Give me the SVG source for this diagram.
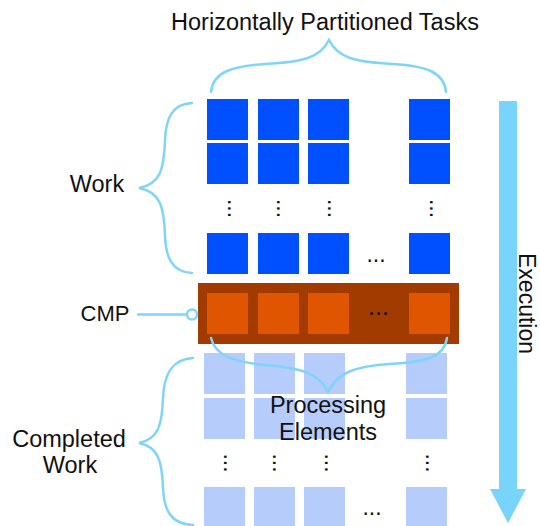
<svg xmlns="http://www.w3.org/2000/svg" width="540" height="526" viewBox="0 0 540 526">
<style>
text{font-family:"Liberation Sans",Arial,Helvetica,sans-serif;fill:#111;}
.lbl{font-size:23.5px;text-anchor:middle;}
.blue{fill:#0050FF;}
.orange{fill:#E05500;}
.light{fill:#B6CCFA;}
.brace{fill:none;stroke:#80D4FA;stroke-width:2.5;stroke-linecap:round;}
.dots{font-size:23px;text-anchor:middle;}
</style>
<rect width="540" height="526" fill="#fff"/>

<g id="work-tasks">
<rect class="blue" x="207" y="99" width="41" height="41"/>
<rect class="blue" x="258" y="99" width="41" height="41"/>
<rect class="blue" x="308" y="99" width="41" height="41"/>
<rect class="blue" x="409" y="99" width="41" height="41"/>
<rect class="blue" x="207" y="143" width="41" height="41"/>
<rect class="blue" x="258" y="143" width="41" height="41"/>
<rect class="blue" x="308" y="143" width="41" height="41"/>
<rect class="blue" x="409" y="143" width="41" height="41"/>
<rect class="blue" x="207" y="233" width="41" height="41"/>
<rect class="blue" x="258" y="233" width="41" height="41"/>
<rect class="blue" x="308" y="233" width="41" height="41"/>
<rect class="blue" x="409" y="233" width="41" height="41"/>
<text class="dots" transform="translate(227.5,208.5) rotate(90)">...</text>
<text class="dots" transform="translate(276.5,208.5) rotate(90)">...</text>
<text class="dots" transform="translate(328,208.5) rotate(90)">...</text>
<text class="dots" transform="translate(429.5,208.5) rotate(90)">...</text>
<text class="dots" x="376" y="262">...</text>
</g>

<g id="cmp">
<rect x="198" y="283" width="261" height="61" fill="#A23B00"/>
<rect class="orange" x="207" y="293" width="41" height="41"/>
<rect class="orange" x="258" y="293" width="41" height="41"/>
<rect class="orange" x="308" y="293" width="41" height="41"/>
<rect class="orange" x="409" y="293" width="41" height="41"/>
<text class="dots" x="378.5" y="315" style="font-size:25px">...</text>
</g>

<g id="completed-work">
<rect class="light" x="204" y="353" width="41" height="41"/>
<rect class="light" x="254" y="353" width="41" height="41"/>
<rect class="light" x="304" y="353" width="41" height="41"/>
<rect class="light" x="406" y="353" width="41" height="41"/>
<rect class="light" x="204" y="398" width="41" height="41"/>
<rect class="light" x="254" y="398" width="41" height="41"/>
<rect class="light" x="304" y="398" width="41" height="41"/>
<rect class="light" x="406" y="398" width="41" height="41"/>
<rect class="light" x="204" y="487" width="41" height="41"/>
<rect class="light" x="254" y="487" width="41" height="41"/>
<rect class="light" x="304" y="487" width="41" height="41"/>
<rect class="light" x="406" y="487" width="41" height="41"/>
<text class="dots" transform="translate(224,463) rotate(90)">...</text>
<text class="dots" transform="translate(273,463) rotate(90)">...</text>
<text class="dots" transform="translate(325,463) rotate(90)">...</text>
<text class="dots" transform="translate(426,463) rotate(90)">...</text>
<text class="dots" x="372" y="515">...</text>
</g>

<g id="connectors">
<path class="brace" d="M211,92 C213,72 232,66 265,64 C303,62 320,58 329,40 C338,58 355,62 393,64 C426,66 444,72 446,92"/>
<path class="brace" d="M192,103 C172,104 166,118 165,140 C164,170 160,184 139,188 C160,192 164,206 165,236 C166,258 172,272 192,273"/>
<path class="brace" d="M193,358 C172,359 164,374 163,398 C162,426 158,439 139,443 C158,447 162,460 163,488 C164,512 172,524 193,525"/>
<path class="brace" d="M211,338 C215,356 235,362 265,365 C300,368 318,372 328,392 C338,372 356,366 390,364 C425,362 444,358 447,338"/>
<line class="brace" x1="138" y1="314.5" x2="187" y2="314.5"/>
<circle cx="192" cy="314.5" r="5" fill="#fff" stroke="#80D4FA" stroke-width="2.5"/>
</g>

<g id="execution-arrow">
<polygon points="499,101 517,101 517,489 526,489 508,523 490,489 499,489" fill="#79D4FB"/>
<text class="lbl" style="text-anchor:start;font-size:23px" transform="translate(518.5,253) rotate(90)">Execution</text>
</g>

<g id="labels">
<text class="lbl" x="325" y="30">Horizontally Partitioned Tasks</text>
<text class="lbl" x="97" y="192">Work</text>
<text class="lbl" x="105" y="321" style="font-size:22px">CMP</text>
<text class="lbl" x="69" y="447">Completed</text>
<text class="lbl" x="70" y="473">Work</text>
<text class="lbl" x="328" y="413">Processing</text>
<text class="lbl" x="328" y="440">Elements</text>
</g>
</svg>
